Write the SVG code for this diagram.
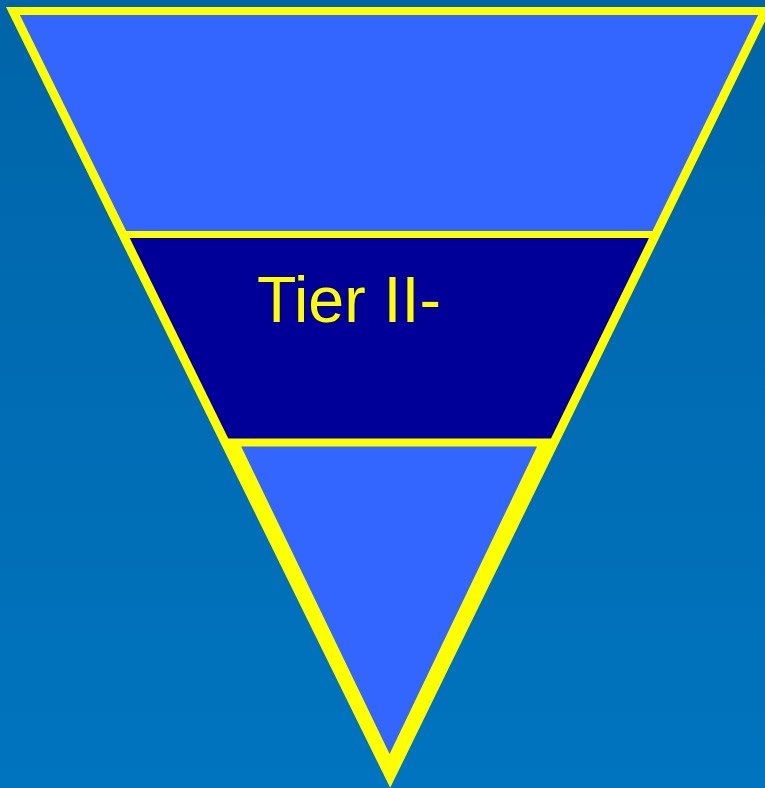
<svg xmlns="http://www.w3.org/2000/svg" width="765" height="788" viewBox="0 0 765 788">
<defs>
<linearGradient id="bg" x1="0" y1="0" x2="0" y2="1">
<stop offset="0" stop-color="#0064a8"/>
<stop offset="1" stop-color="#0074bf"/>
</linearGradient>
<style>
.frame{fill:#ffff00}
.light{fill:#3366ff}
.dark{fill:#000099}
.lbl{font-family:"Liberation Sans",Arial,sans-serif;font-size:64.5px;fill:#ffff00}
</style>
</defs>
<rect x="0" y="0" width="765" height="788" fill="url(#bg)"/>
<g id="funnel">
<polygon class="frame" points="6,7 772,7 390.2,787.8"/>
</g>
<g id="tier-top">
<polygon class="light" points="19.9,15 758.1,15 652.5,231 126.2,231"/>
</g>
<g id="tier-ii">
<polygon class="dark" points="129.7,238 649,238 551,438.5 228.3,438.5"/>
<text class="lbl" x="257" y="322">Tier II-</text>
</g>
<g id="tier-bottom">
<polygon class="light" points="241.2,446.5 537.1,446.5 389.6,754"/>
</g>
<g id="connectors"/>
</svg>
